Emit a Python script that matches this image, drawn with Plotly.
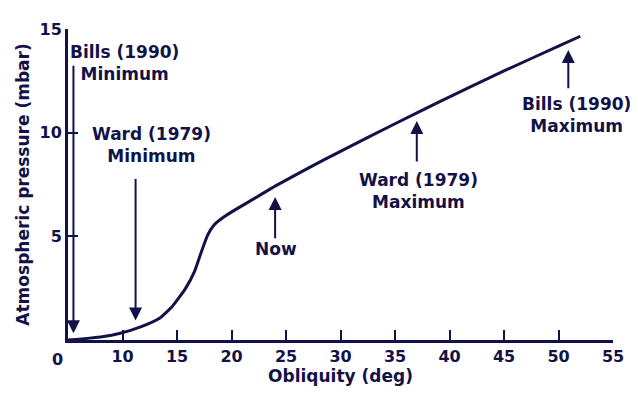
import plotly.graph_objects as go

# ---- data ----
obliquity = [5.0, 6.0, 7.0, 8.0, 9.0, 9.7, 11.6, 13.4, 14.6, 15.8, 16.6, 17.2,
             17.8, 18.4, 19.2, 20.4, 22.5, 24.0, 27.0, 30.0, 35.0, 39.1,
             45.0, 50.0, 52.0]
pressure = [0.0, 0.04, 0.09, 0.15, 0.23, 0.31, 0.62, 1.05, 1.64, 2.5, 3.3, 4.2,
            5.05, 5.55, 5.9, 6.3, 6.95, 7.42, 8.28, 9.1, 10.43, 11.5,
            12.98, 14.17, 14.65]

x_tickvals = [10, 15, 20, 25, 30, 35, 40, 45, 50, 55]
x_ticktext = ["10", "15", "20", "25", "30", "35", "40", "45", "50", "55"]
y_tickvals = [5, 10, 15]
y_ticktext = ["5", "10", "15"]

# marker labels and their arrows (obliquity, tail pressure, tip pressure)
marker_labels = ["Bills (1990)<br>Minimum", "Ward (1979)<br>Minimum", "Now",
                 "Ward (1979)<br>Maximum", "Bills (1990)<br>Maximum"]
marker_obliquity = [5.5, 11.2, 24.0, 37.0, 50.9]
arrow_tail = [13.3, 7.84, 4.84, 8.54, 12.07]
arrow_tip = [0.33, 0.94, 6.9, 10.56, 13.99]
# label text centers
label_x = [10.2, 12.66, 24.1, 37.2, 51.65]
label_y = [13.38, 9.39, 4.37, 7.2, 10.87]

NAVY = "#121248"
FONT = "DejaVu Sans"

fig = go.Figure()
fig.add_trace(go.Scatter(
    x=obliquity, y=pressure, mode="lines",
    line=dict(color=NAVY, width=3, shape="spline", smoothing=0.5),
    hoverinfo="skip", showlegend=False,
))

annotations = []
for i in range(len(marker_labels)):
    annotations.append(dict(
        x=marker_obliquity[i], y=arrow_tip[i], xref="x", yref="y",
        ax=marker_obliquity[i], ay=arrow_tail[i], axref="x", ayref="y",
        text="", showarrow=True, arrowhead=2, arrowsize=1.3, arrowwidth=2,
        arrowcolor=NAVY, standoff=0, startstandoff=0,
    ))
    annotations.append(dict(
        x=label_x[i], y=label_y[i], xref="x", yref="y",
        text="<b>" + marker_labels[i] + "</b>", showarrow=False,
        xanchor="center", yanchor="middle", align="center",
        font=dict(family=FONT, size=17, color=NAVY),
    ))
# origin label "0"
annotations.append(dict(
    x=5, y=0, xref="x", yref="y", text="<b>0</b>", showarrow=False,
    xanchor="center", yanchor="top", xshift=-11, yshift=-8,
    font=dict(family=FONT, size=16, color=NAVY),
))

fig.update_layout(
    width=630, height=389,
    margin=dict(l=60, r=25, t=13, b=57),
    paper_bgcolor="white", plot_bgcolor="white",
    font=dict(family=FONT, color=NAVY),
    annotations=annotations,
    xaxis=dict(
        range=[5, 55], tickvals=x_tickvals, ticktext=["<b>%s</b>" % t for t in x_ticktext],
        ticks="inside", ticklen=10, tickwidth=2, tickcolor=NAVY,
        showline=True, linewidth=3, linecolor=NAVY, showgrid=False, zeroline=False,
        tickfont=dict(family=FONT, size=16, color=NAVY),
        title=dict(text="<b>Obliquity (deg)</b>", font=dict(family=FONT, size=17, color=NAVY),
                   standoff=4),
    ),
    yaxis=dict(
        range=[0, 15], tickvals=y_tickvals, ticktext=["<b>%s</b>" % t for t in y_ticktext],
        ticks="inside", ticklen=10, tickwidth=2, tickcolor=NAVY,
        showline=True, linewidth=3, linecolor=NAVY, showgrid=False, zeroline=False,
        tickfont=dict(family=FONT, size=16, color=NAVY),
        title=dict(text="<b>Atmospheric pressure (mbar)</b>",
                   font=dict(family=FONT, size=17, color=NAVY), standoff=6),
    ),
)

fig.write_html("out.html")
